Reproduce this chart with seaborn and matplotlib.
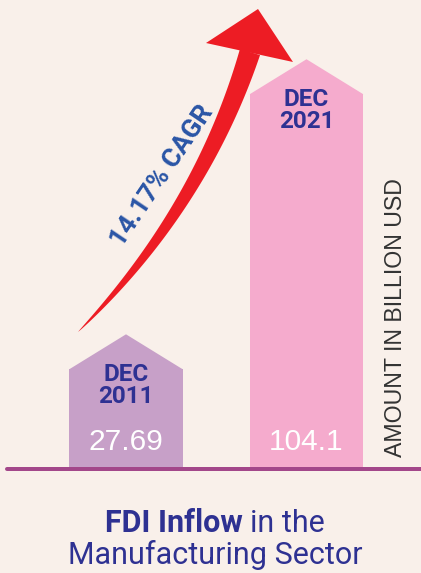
import numpy as np
import pandas as pd
import matplotlib
matplotlib.use("Agg")
import matplotlib.pyplot as plt
from matplotlib.patches import Polygon
import seaborn as sns

# ---- data ----
periods = ["DEC\n2011", "DEC\n2021"]
period_top = ["DEC", "DEC"]
period_year = ["2011", "2021"]
values = [27.69, 104.1]
value_labels = ["27.69", "104.1"]
cagr_label = "14.17% CAGR"
unit_label = "AMOUNT IN BILLION USD"
title_bold = "FDI Inflow"
title_rest = "in the"
title_line2 = "Manufacturing Sector"

# ---- style ----
BG = "#f9f0ea"
BAR_COLORS = ["#c7a0c8", "#f5abcd"]
DARK_BLUE = "#2e3192"
CAGR_BLUE = "#2a55a6"
RED = "#ed1c24"
BASE = "#a3478a"

W, H = 421, 573
sns.set_theme(style="white")
plt.rcParams["font.family"] = ["Roboto", "DejaVu Sans"]

fig = plt.figure(figsize=(W / 100, H / 100), dpi=100)
fig.patch.set_facecolor(BG)

px_per_unit = 3.6
base_px = 469
ax = fig.add_axes([0, (H - base_px) / H, 1, base_px / H])
ax.set_facecolor(BG)

df = pd.DataFrame({"period": periods, "value": values})
sns.barplot(data=df, x="period", y="value", hue="period", palette=BAR_COLORS,
            width=0.63, legend=False, ax=ax, saturation=1, linewidth=0)
spacing = 180.5
ax.set_xlim(-126 / spacing, 1 + (W - 306.5) / spacing)
ax.set_ylim(0, base_px / px_per_unit)
ax.axis("off")

cap = 35 / px_per_unit
for i, p in enumerate(ax.patches[:len(values)]):
    x0, w, h = p.get_x(), p.get_width(), p.get_height()
    ax.add_patch(Polygon([(x0, h - 0.01), (x0 + w / 2, h + cap), (x0 + w, h - 0.01)],
                         closed=True, facecolor=p.get_facecolor(), edgecolor="none"))
    xc = x0 + w / 2
    ax.annotate(period_top[i], (xc, h), xytext=(0, -12 * 0.72), textcoords="offset points",
                ha="center", va="baseline", fontsize=17.5, fontweight="bold", color=DARK_BLUE)
    ax.annotate(period_year[i], (xc, h), xytext=(0, -34 * 0.72), textcoords="offset points",
                ha="center", va="baseline", fontsize=17.5, fontweight="bold", color=DARK_BLUE)
    ax.annotate(value_labels[i], (xc, 0), xytext=(0, 19 * 0.72), textcoords="offset points",
                ha="center", va="baseline", fontsize=21.5, color="white",
                family=["Liberation Sans", "DejaVu Sans"])

ax.axhline(0, xmin=7 / W, xmax=1, color=BASE, linewidth=4 * 0.72, zorder=5, clip_on=False)

# ---- curved arrow (decoration), in figure pixel coordinates ----
def fp(x, y):
    return (x / W, 1 - y / H)

P0 = np.array([78, 332.0]); P1 = np.array([201, 209.0]); P2 = np.array([250, 52.0])
t = np.linspace(0, 1, 120)
pts = ((1 - t) ** 2)[:, None] * P0 + (2 * (1 - t) * t)[:, None] * P1 + (t ** 2)[:, None] * P2
d = (2 * (1 - t))[:, None] * (P1 - P0) + (2 * t)[:, None] * (P2 - P1)
nrm = np.stack([-d[:, 1], d[:, 0]], axis=1)
nrm /= np.linalg.norm(nrm, axis=1)[:, None]
half = 10.5 * t ** 0.75
left = pts + nrm * half[:, None]
right = pts - nrm * half[:, None]
shaft = np.vstack([left, right[::-1]])
fig.patches.append(Polygon([fp(*q) for q in shaft], closed=True, transform=fig.transFigure,
                           facecolor=RED, edgecolor="none"))
head = [(258, 9), (206, 43), (293, 62)]
fig.patches.append(Polygon([fp(*q) for q in head], closed=True, transform=fig.transFigure,
                           facecolor=RED, edgecolor="none"))

fig.text(*fp(162, 176), cagr_label, rotation=56, rotation_mode="anchor",
         ha="center", va="center", fontsize=19, fontweight="bold", color=CAGR_BLUE)

fig.text(*fp(396, 318), unit_label, rotation=90, ha="center", va="center",
         fontsize=16.7, color="#333333", family=["Liberation Sans", "DejaVu Sans"])

# ---- title: mixed bold / regular first line, centred ----
TS = 22
renderer = fig.canvas.get_renderer()
tb = fig.text(0, 0, title_bold, ha="left", va="baseline", fontsize=TS,
              fontweight="bold", color=DARK_BLUE)
tr = fig.text(0, 0, title_rest, ha="left", va="baseline", fontsize=TS, color=DARK_BLUE)
wb = tb.get_window_extent(renderer).width
wr = tr.get_window_extent(renderer).width
gap = 0.26 * TS * 100 / 72
total = wb + gap + wr
x_start = 215 - total / 2
tb.set_position(fp(x_start, 532))
tr.set_position(fp(x_start + wb + gap, 532))
fig.text(*fp(215, 564), title_line2, ha="center", va="baseline", fontsize=TS, color=DARK_BLUE)

fig.savefig("out.png", dpi=100, facecolor=BG)
